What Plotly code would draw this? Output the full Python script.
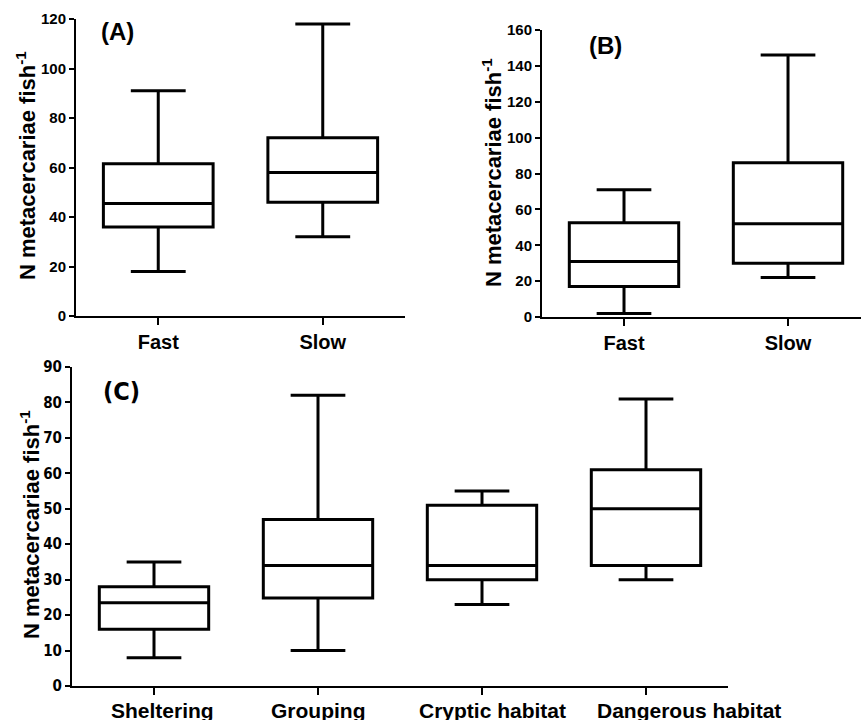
import plotly.graph_objects as go

# ---------------- data ----------------
cats_ab = ["Fast", "Slow"]
a_low = [18, 32]
a_q1 = [36, 46]
a_med = [45.5, 58]
a_q3 = [61.5, 72]
a_high = [91, 118]

b_low = [2, 22]
b_q1 = [17, 30]
b_med = [31, 52]
b_q3 = [52.5, 86]
b_high = [71, 146]

cats_c = ["Sheltering", "Grouping", "Cryptic habitat", "Dangerous habitat"]
c_low = [8, 10, 23, 30]
c_q1 = [16, 24.8, 30, 34]
c_med = [23.5, 34, 34, 50]
c_q3 = [28, 47, 51, 61]
c_high = [35, 82, 55, 81]
c_label_shift = [8, 0, 10, 43]  # label offsets (px) as drawn in the original

ytitle = "N metacercariae fish<sup>-1</sup>"
FONT = "Liberation Sans"
NARROW = "Liberation Sans Narrow, DejaVu Sans Condensed, Liberation Sans"

W, H = 861, 720


def box(x, lo, q1, med, q3, hi, xa, ya):
    return go.Box(
        x=x, lowerfence=lo, q1=q1, median=med, q3=q3, upperfence=hi,
        xaxis=xa, yaxis=ya, boxpoints=False, width=0.667, whiskerwidth=0.5,
        fillcolor="white", line=dict(color="black", width=3),
        showlegend=False, hoverinfo="skip",
    )


fig = go.Figure()
fig.add_trace(box(cats_ab, a_low, a_q1, a_med, a_q3, a_high, "x", "y"))
fig.add_trace(box(cats_ab, b_low, b_q1, b_med, b_q3, b_high, "x2", "y2"))
fig.add_trace(box(cats_c, c_low, c_q1, c_med, c_q3, c_high, "x3", "y3"))


def px_x(p):
    return p / W


def px_y(p):
    return 1 - p / H


def xax(domain, rng, anchor, fam, size, standoff, show=True):
    return dict(domain=domain, range=rng, anchor=anchor, type="category",
                automargin=False, showticklabels=show,
                showline=True, linecolor="black", linewidth=2,
                ticks="outside", ticklen=7, tickwidth=2, tickcolor="black",
                showgrid=False, zeroline=False,
                tickfont=dict(family=fam, size=size, color="black", weight="bold"),
                ticklabelstandoff=standoff)


def yax(domain, rng, dtick, anchor, fam, size):
    return dict(domain=domain, range=rng, dtick=dtick, anchor=anchor,
                automargin=False,
                showline=True, linecolor="black", linewidth=2,
                ticks="outside", ticklen=5, tickwidth=2, tickcolor="black",
                showgrid=False, zeroline=False,
                tickfont=dict(family=fam, size=size, color="black", weight="bold"))


fig.update_layout(
    width=W, height=H, margin=dict(l=0, r=0, t=0, b=0, autoexpand=False),
    paper_bgcolor="white", plot_bgcolor="white",
    xaxis=xax([px_x(76), px_x(405)], [-0.5, 1.5], "y", FONT, 20, 0),
    yaxis=yax([px_y(316), px_y(19)], [0, 120], 20, "x", FONT, 15),
    xaxis2=xax([px_x(542), 1.0], [-0.5, 1.445], "y2", FONT, 20, 0),
    yaxis2=yax([px_y(317), px_y(30)], [0, 160], 20, "x2", FONT, 15),
    xaxis3=xax([px_x(72), px_x(728)], [-0.5, 3.5], "y3", FONT, 21, 0, show=False),
    yaxis3=yax([px_y(686), px_y(367)], [0, 90], 10, "x3", NARROW, 15),
)

# category labels of panel C (drawn as text anchored to each category)
for cat, dx in zip(cats_c, c_label_shift):
    fig.add_annotation(x=cat, xref="x3", y=px_y(697), yref="paper",
                       text=cat, showarrow=False, xshift=dx,
                       xanchor="center", yanchor="top",
                       font=dict(family=FONT, size=21, color="black", weight="bold"))

annots = [
    (26, 166, ytitle, -90, FONT, 22),
    (492, 173, ytitle, -90, FONT, 22),
    (30, 525, ytitle, -90, FONT, 22),
    (117, 32, "(A)", 0, FONT, 24),
    (605, 45, "(B)", 0, FONT, 24),
    (121, 392, "(C)", 0, NARROW, 25),
]
for x, y, t, ang, fam, sz in annots:
    fig.add_annotation(x=px_x(x), y=px_y(y), xref="paper", yref="paper",
                       text=t, textangle=ang, showarrow=False,
                       xanchor="center", yanchor="middle",
                       font=dict(family=fam, size=sz, color="black", weight="bold"))

fig.write_html("out.html", config={"displayModeBar": False},
               post_script="document.body.style.margin='0';")
